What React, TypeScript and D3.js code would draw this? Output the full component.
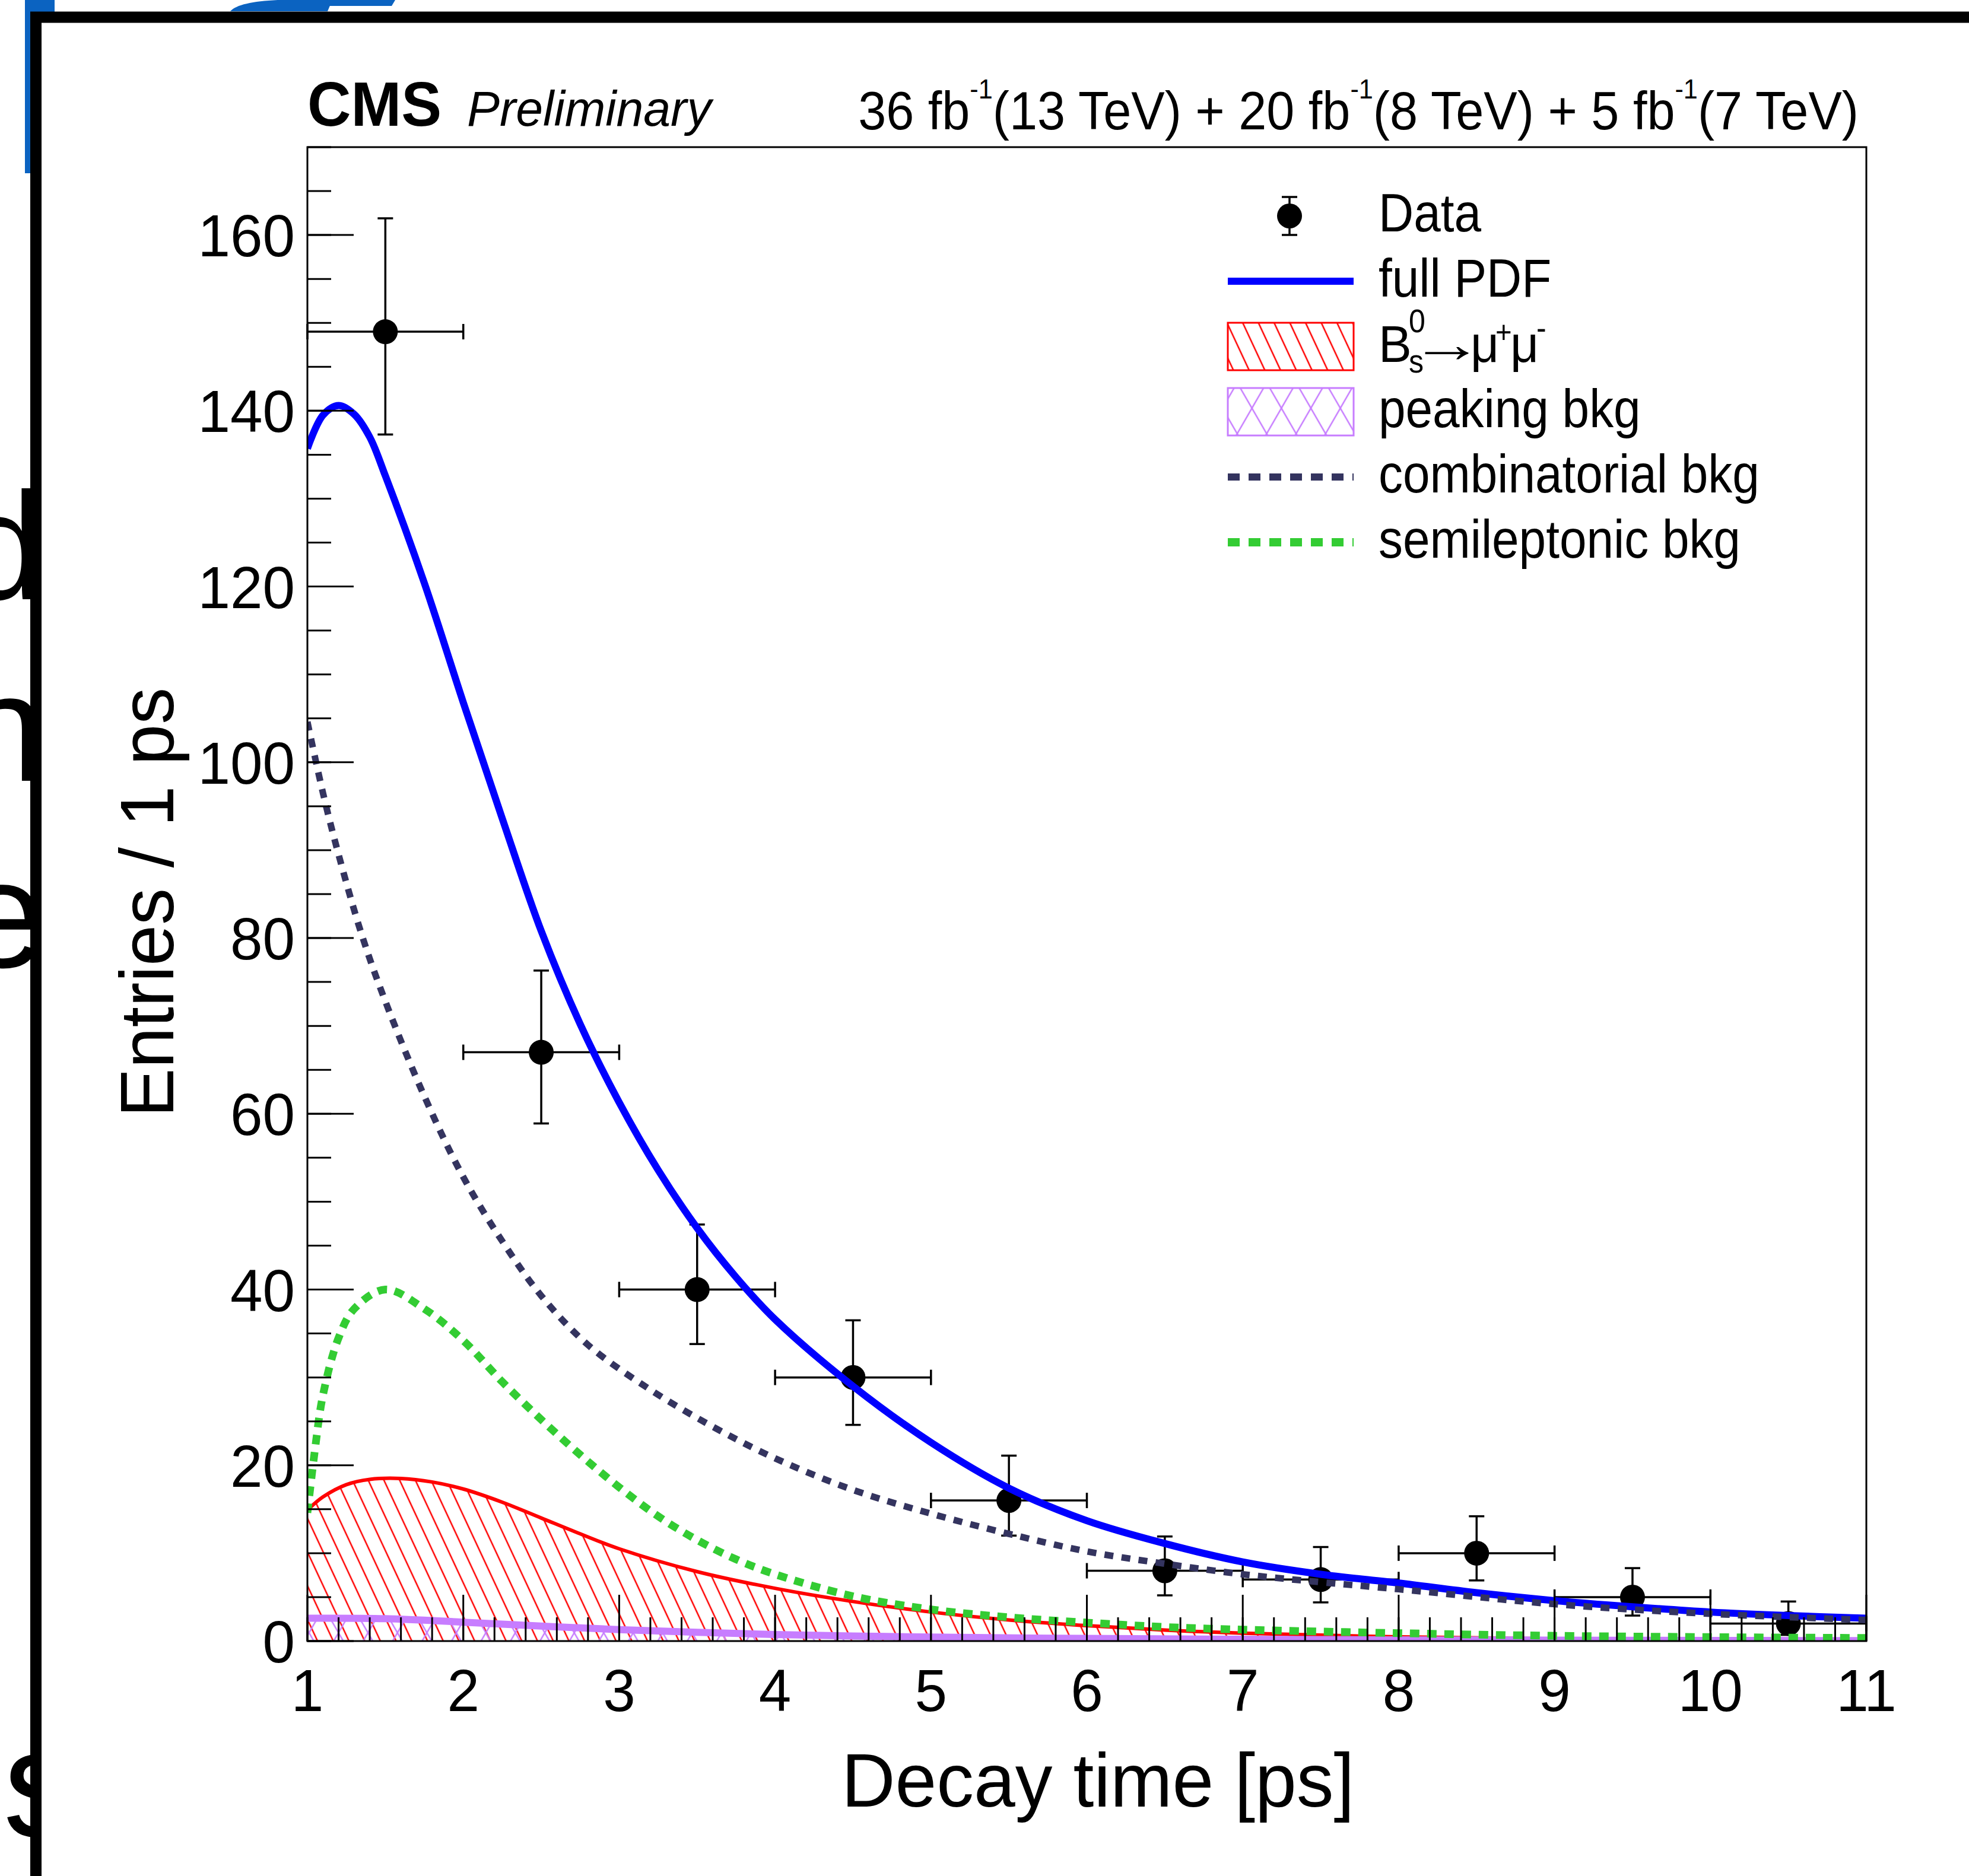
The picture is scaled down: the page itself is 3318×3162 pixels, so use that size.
import React from 'react';
import * as d3 from 'd3';

const W = 3318;
const H = 3162;

// data points: bin centres, counts and the asymmetric (Poisson) error limits
const binCentres = [1.5, 2.5, 3.5, 4.5, 5.5, 6.5, 7.5, 8.5, 9.5, 10.5];
const entries = [149, 67, 40, 30, 16, 8, 7, 10, 5, 2];
const errLow = [137.3, 58.9, 33.8, 24.6, 12.0, 5.2, 4.4, 6.9, 2.9, 0.7];
const errHigh = [161.9, 76.3, 47.4, 36.5, 21.1, 11.9, 10.7, 14.2, 8.3, 4.5];
const binHalfWidth = 0.5;

// full PDF (blue)
const tFull = [1.0, 1.1, 1.2, 1.3, 1.4, 1.5, 1.75, 2.0, 2.25, 2.5, 2.75, 3.0, 3.25, 3.5, 3.75, 4.0, 4.5, 5.0, 5.5, 6.0, 6.5, 7.0, 7.5, 8.0, 8.5, 9.0, 9.5, 10.0, 10.5, 11.0];
const fullPdf = [135.7, 139.5, 140.6, 139.6, 137.0, 132.6, 120.4, 106.8, 93.6, 80.8, 70.2, 61.3, 53.6, 47.0, 41.4, 36.6, 29.0, 22.6, 17.4, 13.7, 11.1, 9.0, 7.6, 6.6, 5.5, 4.6, 3.9, 3.3, 2.9, 2.6];

// combinatorial bkg (navy dotted)
const tComb = [1.0, 1.1, 1.2, 1.35, 1.5, 1.75, 2.0, 2.25, 2.5, 2.8, 3.2, 3.6, 4.0, 4.5, 5.0, 5.5, 6.0, 6.5, 7.0, 7.5, 8.0, 9.0, 10.0, 11.0];
const comb = [104.6, 96.5, 89.5, 80.3, 72.8, 62.0, 52.8, 45.5, 39.3, 33.7, 28.6, 24.4, 20.8, 17.2, 14.5, 12.2, 10.2, 8.8, 7.6, 6.7, 5.9, 4.2, 3.1, 2.4];

// semileptonic bkg (green dotted)
const tSemi = [1.0, 1.05, 1.1, 1.2, 1.3, 1.5, 1.75, 2.0, 2.25, 2.5, 2.75, 3.0, 3.25, 3.5, 3.75, 4.0, 4.5, 5.0, 5.5, 6.0, 6.5, 7.0, 8.0, 9.0, 10.0, 11.0];
const semi = [14.6, 22.0, 28.0, 34.5, 37.8, 40.0, 37.8, 34.2, 29.5, 25.2, 21.2, 17.5, 14.2, 11.5, 9.3, 7.6, 5.1, 3.6, 2.7, 2.1, 1.6, 1.3, 0.9, 0.6, 0.45, 0.35];

// Bs -> mu mu signal (red hatched)
const tBs = [1.0, 1.1, 1.25, 1.4, 1.6, 1.8, 2.0, 2.25, 2.5, 2.75, 3.0, 3.5, 4.0, 4.5, 5.0, 5.5, 6.0, 6.5, 7.0, 8.0, 9.0, 10.0, 11.0];
const bs = [14.9, 16.4, 17.8, 18.4, 18.5, 18.1, 17.3, 15.8, 14.0, 12.2, 10.5, 7.9, 6.0, 4.5, 3.3, 2.4, 1.75, 1.25, 0.9, 0.48, 0.26, 0.15, 0.08];

// peaking bkg (violet cross-hatched)
const tPeak = [1.0, 1.5, 2.0, 2.5, 3.0, 3.5, 4.0, 4.5, 5.0, 6.0, 7.0, 8.0, 9.0, 10.0, 11.0];
const peak = [2.6, 2.55, 2.15, 1.7, 1.3, 1.0, 0.75, 0.58, 0.45, 0.3, 0.2, 0.14, 0.1, 0.07, 0.05];

const legendLabels = ['Data', 'full PDF', 'Bs', 'peaking bkg', 'combinatorial bkg', 'semileptonic bkg'];

const FONT = "'Liberation Sans', Arial, Helvetica, sans-serif";
const BLUE = '#0000ff';
const RED = '#ff0000';
const NAVY = '#34345f';
const GREEN = '#33cc33';
const VIOLET = '#c77dff';
const SLIDE_BLUE = '#0b63c1';

const PLOT = { left: 518, right: 3145, top: 248, bottom: 2766 };

function Label({ x, y, size, anchor = 'start', sx = 0.91, rotate = 0, weight = 'normal', italic = false, fill = '#000', children }: any) {
  const tr = `translate(${x},${y})` + (rotate ? ` rotate(${rotate})` : '') + ` scale(${sx},1)`;
  return (
    <text
      transform={tr}
      fontSize={size}
      textAnchor={anchor}
      fontWeight={weight}
      fontStyle={italic ? 'italic' : 'normal'}
      fill={fill}
      fontFamily={FONT}
    >
      {children}
    </text>
  );
}

const zip = (a: number[], b: number[]) => a.map((v, i) => [v, b[i]] as [number, number]);

export default function App() {
  const x = d3.scaleLinear().domain([1, 11]).range([PLOT.left, PLOT.right]);
  const y = d3.scaleLinear().domain([0, 170]).range([PLOT.bottom, PLOT.top]);

  const smooth = d3.curveCatmullRom.alpha(0.5);
  const line = d3
    .line<[number, number]>()
    .x((d) => x(d[0]))
    .y((d) => y(d[1]))
    .curve(smooth);
  const area = d3
    .area<[number, number]>()
    .x((d) => x(d[0]))
    .y0(y(0))
    .y1((d) => y(d[1]))
    .curve(smooth);

  const xMajor = x.ticks(10);
  const xMinor = x.ticks(50);
  const yMajor = y.ticks(8);
  const yMinor = y.ticks(34);

  const bsPts = zip(tBs, bs);
  const peakPts = zip(tPeak, peak);

  // legend geometry
  const lgX0 = 2069;
  const lgX1 = 2281;
  const lgText = 2323;
  const rowY = (i: number) => 364 + i * 110;

  const cap = 13;

  return (
    <svg width={W} height={H} style={{ position: 'absolute', left: 0, top: 0, display: 'block', background: '#fff' }}>
      <defs>
        <pattern id="hatchRed" patternUnits="userSpaceOnUse" width="24" height="24" patternTransform="rotate(-25)">
          <line x1="12" y1="-2" x2="12" y2="26" stroke={RED} strokeWidth="2.5" />
        </pattern>
        <pattern id="hatchVioA" patternUnits="userSpaceOnUse" width="43" height="43" patternTransform="rotate(-30)">
          <line x1="21" y1="-2" x2="21" y2="45" stroke={VIOLET} strokeWidth="2.5" />
        </pattern>
        <pattern id="hatchVioB" patternUnits="userSpaceOnUse" width="43" height="43" patternTransform="rotate(30)">
          <line x1="21" y1="-2" x2="21" y2="45" stroke={VIOLET} strokeWidth="2.5" />
        </pattern>
        <clipPath id="plotClip">
          <rect x={PLOT.left} y={PLOT.top} width={PLOT.right - PLOT.left} height={PLOT.bottom - PLOT.top} />
        </clipPath>
      </defs>

      <rect width={W} height={H} fill="#fff" />

      {/* slide background peeking out behind the figure */}
      <g fill={SLIDE_BLUE}>
        <rect x={42} y={-5} width={50} height={297} />
        <path d="M388,19 C398,8 425,2 468,0 L560,0 L552,19 Z" />
        <path d="M552,0 L666,0 L660,10 L548,10 Z" />
      </g>
      <g fontFamily={FONT} fontSize={258} fill="#000">
        <text x={-67} y={1010}>d</text>
        <text x={-67} y={1316}>n</text>
        <text x={-67} y={1630}>e</text>
        <text x={5} y={3095}>s</text>
      </g>

      {/* black framed figure */}
      <rect x={60.5} y={29} width={W + 200} height={H + 200} fill="#fff" stroke="#000" strokeWidth={19} />

      {/* data points */}
      <g stroke="#000" strokeWidth={3.5}>
        {binCentres.map((c, i) => (
          <g key={i}>
            <line x1={x(c - binHalfWidth)} x2={x(c + binHalfWidth)} y1={y(entries[i])} y2={y(entries[i])} />
            <line x1={x(c - binHalfWidth)} x2={x(c - binHalfWidth)} y1={y(entries[i]) - cap} y2={y(entries[i]) + cap} />
            <line x1={x(c + binHalfWidth)} x2={x(c + binHalfWidth)} y1={y(entries[i]) - cap} y2={y(entries[i]) + cap} />
            <line x1={x(c)} x2={x(c)} y1={y(errLow[i])} y2={y(errHigh[i])} />
            <line x1={x(c) - cap} x2={x(c) + cap} y1={y(errHigh[i])} y2={y(errHigh[i])} />
            <line x1={x(c) - cap} x2={x(c) + cap} y1={y(errLow[i])} y2={y(errLow[i])} />
          </g>
        ))}
      </g>
      {binCentres.map((c, i) => (
        <circle key={i} cx={x(c)} cy={y(entries[i])} r={21} fill="#000" />
      ))}

      {/* PDF components */}
      <g clipPath="url(#plotClip)" fill="none" strokeLinecap="butt">
        <path d={area(bsPts) || ''} fill="url(#hatchRed)" stroke="none" />
        <path d={line(bsPts) || ''} stroke={RED} strokeWidth={6} />
        <path d={area(peakPts) || ''} fill="url(#hatchVioA)" stroke="none" />
        <path d={area(peakPts) || ''} fill="url(#hatchVioB)" stroke="none" />
        <path d={line(peakPts) || ''} stroke={VIOLET} strokeWidth={12} />
        <path d={line(zip(tFull, fullPdf)) || ''} stroke={BLUE} strokeWidth={12} />
        <path d={line(zip(tComb, comb)) || ''} stroke={NAVY} strokeWidth={11} strokeDasharray="15 14" />
        <path d={line(zip(tSemi, semi)) || ''} stroke={GREEN} strokeWidth={13} strokeDasharray="16 13" />
      </g>

      {/* axes */}
      <rect
        x={PLOT.left}
        y={PLOT.top}
        width={PLOT.right - PLOT.left}
        height={PLOT.bottom - PLOT.top}
        fill="none"
        stroke="#000"
        strokeWidth={3}
      />
      <g stroke="#000" strokeWidth={3}>
        {xMinor.map((t) => (
          <line key={'xm' + t} x1={x(t)} x2={x(t)} y1={PLOT.bottom} y2={PLOT.bottom - 40} />
        ))}
        {xMajor.map((t) => (
          <line key={'xM' + t} x1={x(t)} x2={x(t)} y1={PLOT.bottom} y2={PLOT.bottom - 78} />
        ))}
        {yMinor.map((t) => (
          <line key={'ym' + t} x1={PLOT.left} x2={PLOT.left + 40} y1={y(t)} y2={y(t)} />
        ))}
        {yMajor.map((t) => (
          <line key={'yM' + t} x1={PLOT.left} x2={PLOT.left + 78} y1={y(t)} y2={y(t)} />
        ))}
      </g>
      {xMajor.map((t) => (
        <Label key={'xl' + t} x={x(t)} y={2884} size={100} anchor="middle" sx={0.98}>
          {d3.format('d')(t)}
        </Label>
      ))}
      {yMajor.map((t) => (
        <Label key={'yl' + t} x={497} y={y(t) + 36} size={100} anchor="end" sx={0.98}>
          {d3.format('d')(t)}
        </Label>
      ))}

      <Label x={1418} y={3045} size={128} sx={0.98}>
        Decay time [ps]
      </Label>
      <Label x={292} y={1521} size={128} rotate={-90} anchor="middle" sx={0.97}>
        Entries / 1 ps
      </Label>

      {/* header */}
      <Label x={518} y={212} size={105} weight="bold" sx={0.97}>
        CMS
      </Label>
      <Label x={787} y={212} size={84} italic sx={0.98}>
        Preliminary
      </Label>
      <text transform="translate(3132,218) scale(0.94,1)" textAnchor="end" fontSize={90} fontFamily={FONT} fill="#000">
        {'36 fb'}
        <tspan dy={-52} fontSize={46}>-1</tspan>
        <tspan dy={52}>{'(13 TeV) + 20 fb'}</tspan>
        <tspan dy={-52} fontSize={46}>-1</tspan>
        <tspan dy={52}>{'(8 TeV) + 5 fb'}</tspan>
        <tspan dy={-52} fontSize={46}>-1</tspan>
        <tspan dy={52}>{'(7 TeV)'}</tspan>
      </text>

      {/* legend */}
      <g>
        {/* Data */}
        <line x1={2173} x2={2173} y1={rowY(0) - 32} y2={rowY(0) + 32} stroke="#000" strokeWidth={3.5} />
        <line x1={2173 - cap} x2={2173 + cap} y1={rowY(0) - 32} y2={rowY(0) - 32} stroke="#000" strokeWidth={3.5} />
        <line x1={2173 - cap} x2={2173 + cap} y1={rowY(0) + 32} y2={rowY(0) + 32} stroke="#000" strokeWidth={3.5} />
        <circle cx={2173} cy={rowY(0)} r={21} fill="#000" />
        <Label x={lgText} y={rowY(0) + 26} size={90}>
          {legendLabels[0]}
        </Label>

        {/* full PDF */}
        <line x1={lgX0} x2={lgX1} y1={rowY(1)} y2={rowY(1)} stroke={BLUE} strokeWidth={12} />
        <Label x={lgText} y={rowY(1) + 26} size={90}>
          {legendLabels[1]}
        </Label>

        {/* Bs */}
        <rect x={lgX0} y={rowY(2) - 40} width={lgX1 - lgX0} height={80} fill="url(#hatchRed)" stroke={RED} strokeWidth={3} />
        <Label x={lgText} y={rowY(2) + 26} size={88} sx={0.95}>
          B
        </Label>
        <Label x={2374} y={rowY(2) - 24} size={55}>
          0
        </Label>
        <Label x={2374} y={rowY(2) + 44} size={55}>
          s
        </Label>
        <Label x={2438} y={rowY(2) + 26} size={88} anchor="middle" sx={1.4}>
          {'\u2192'}
        </Label>
        <Label x={2478} y={rowY(2) + 26} size={88} sx={0.95}>
          {'\u03bc'}
        </Label>
        <Label x={2520} y={rowY(2) - 6} size={52}>
          +
        </Label>
        <Label x={2545} y={rowY(2) + 26} size={88} sx={0.95}>
          {'\u03bc'}
        </Label>
        <Label x={2589} y={rowY(2) - 12} size={55}>
          -
        </Label>

        {/* peaking */}
        <rect x={lgX0} y={rowY(3) - 40} width={lgX1 - lgX0} height={80} fill="url(#hatchVioA)" />
        <rect x={lgX0} y={rowY(3) - 40} width={lgX1 - lgX0} height={80} fill="url(#hatchVioB)" stroke={VIOLET} strokeWidth={3} />
        <Label x={lgText} y={rowY(3) + 26} size={90}>
          {legendLabels[3]}
        </Label>

        {/* combinatorial */}
        <line x1={lgX0} x2={lgX1} y1={rowY(4)} y2={rowY(4)} stroke={NAVY} strokeWidth={12} strokeDasharray="20 15" />
        <Label x={lgText} y={rowY(4) + 26} size={90}>
          {legendLabels[4]}
        </Label>

        {/* semileptonic */}
        <line x1={lgX0} x2={lgX1} y1={rowY(5)} y2={rowY(5)} stroke={GREEN} strokeWidth={14} strokeDasharray="20 15" />
        <Label x={lgText} y={rowY(5) + 26} size={90}>
          {legendLabels[5]}
        </Label>
      </g>
    </svg>
  );
}
